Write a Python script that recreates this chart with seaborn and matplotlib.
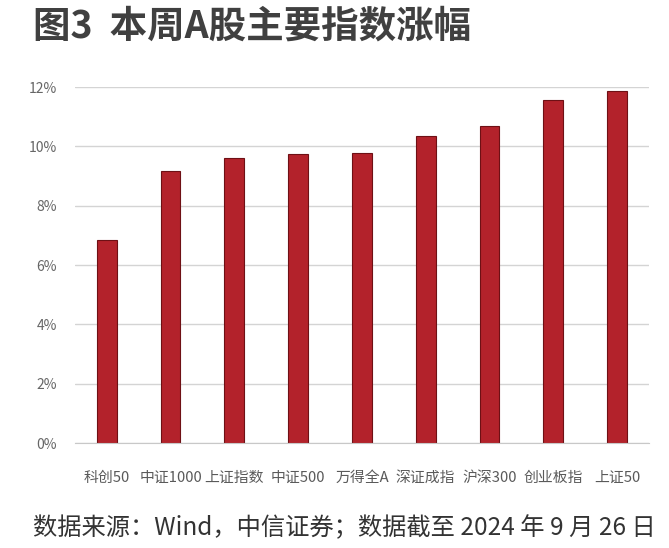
import matplotlib.pyplot as plt
import matplotlib.ticker as mticker
import pandas as pd
import seaborn as sns

# index names and weekly gains (%)
indices = ['科创50', '中证1000', '上证指数', '中证500', '万得全A',
           '深证成指', '沪深300', '创业板指', '上证50']
gains = [6.85, 9.17, 9.6, 9.74, 9.78, 10.36, 10.7, 11.55, 11.87]

df = pd.DataFrame({'index': indices, 'gain': gains})

sns.set_style('white')
plt.rcParams['font.family'] = ['Noto Sans CJK SC', 'DejaVu Sans']

fig = plt.figure(figsize=(6.69, 5.48), dpi=100)
ax = fig.add_axes([0.112, 0.1916, 0.858, 0.6496])

sns.barplot(data=df, x='index', y='gain', color='#B3222B', width=0.31,
            edgecolor='#6e1015', linewidth=0.8, saturation=1, ax=ax)

ax.set_ylim(0, 12)
ax.set_yticks([0, 2, 4, 6, 8, 10, 12])
ax.yaxis.set_major_formatter(mticker.FuncFormatter(lambda v, p: f'{v:.0f}%'))
ax.yaxis.grid(True, color='#d4d4d4', linewidth=1)
ax.set_axisbelow(True)
for s in ['top', 'right', 'left']:
    ax.spines[s].set_visible(False)
ax.spines['bottom'].set_color('#c8c8c8')
ax.tick_params(axis='x', length=0, labelsize=10.7, labelcolor='#5a5a5a', pad=20)
ax.tick_params(axis='y', length=0, labelsize=10, labelcolor='#666666', pad=13)
ax.set_xlabel('')
ax.set_ylabel('')

fig.text(0.049, 0.952, '图3  本周A股主要指数涨幅', fontsize=27, fontweight='bold',
         color='#404040', va='center', ha='left')
fig.text(0.049, 0.036, '数据来源：Wind，中信证券；数据截至 2024 年 9 月 26 日', fontsize=17.5,
         color='#333333', va='center', ha='left')

plt.savefig('out.png', dpi=100)
